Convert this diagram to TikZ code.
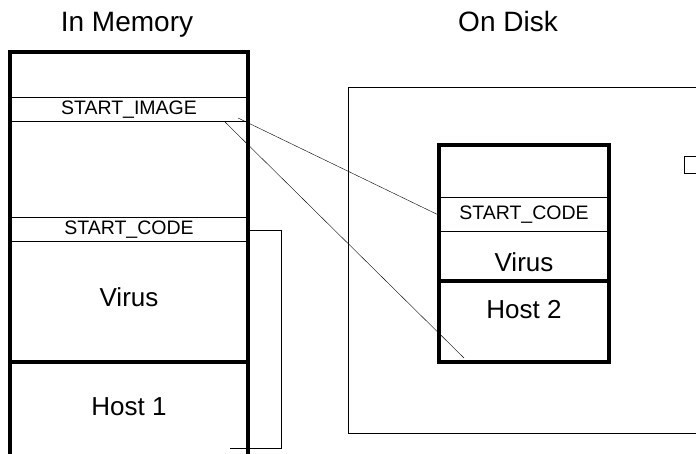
\documentclass[tikz,border=0pt]{standalone}
\usepackage{fontspec}
\setmainfont{Liberation Sans}
\usetikzlibrary{positioning}

\begin{document}
\begin{tikzpicture}[x=1pt,y=-1pt,
  band/.style={draw,rectangle,line width=1pt,inner sep=0pt,font=\fontsize{19.5}{21}\selectfont},
  part/.style={rectangle,inner sep=0pt,font=\fontsize{26}{28}\selectfont},
  title/.style={anchor=base,inner sep=0pt,font=\fontsize{28}{30}\selectfont},
  frame/.style={line width=4pt}]
\useasboundingbox (0,0) rectangle (696,454);
\clip (0,0) rectangle (696,454);

\node[title] (memtitle) at (127,32) {In Memory};
\node[title] (disktitle) at (508,32) {On Disk};

% in memory
\node[band,minimum width=238pt,minimum height=24pt] (memimage) at (129,110) {START\_IMAGE};
\node[band,minimum width=238pt,minimum height=24pt] (memcode) at (129,230) {START\_CODE};
\node[part] (memvirus) at (129,297) {Virus};
\node[part] (memhost) at (129,407) {Host 1};
\draw[frame] (10,462) -- (10,52) -- (248,52) -- (248,462);
\draw[frame] (10,362) -- (248,362);

% on disk
\draw[line width=1pt] (348,88) rectangle (710,433);
\draw[line width=1pt] (684,157) rectangle (710,174);
\node[band,minimum width=170pt,minimum height=34pt] (diskcode) at (524,215) {START\_CODE};
\node[part] (diskvirus) at (524,262) {Virus};
\node[part] (diskhost) at (524,310) {Host 2};
\draw[frame] (439,145) rectangle (609,362);
\draw[frame] (439,281) -- (609,281);

% links
\coordinate (imgA) at (238,118);
\coordinate (imgB) at (225,122);
\coordinate (hostend) at (464,358);
\coordinate (codecorner) at (281,448);
\coordinate (codeback) at (230,448);
\draw (imgA) -- (diskcode.west);
\draw (imgB) -- (hostend);
\draw (memcode.east) -| (codecorner) -- (codeback);
\end{tikzpicture}
\end{document}
